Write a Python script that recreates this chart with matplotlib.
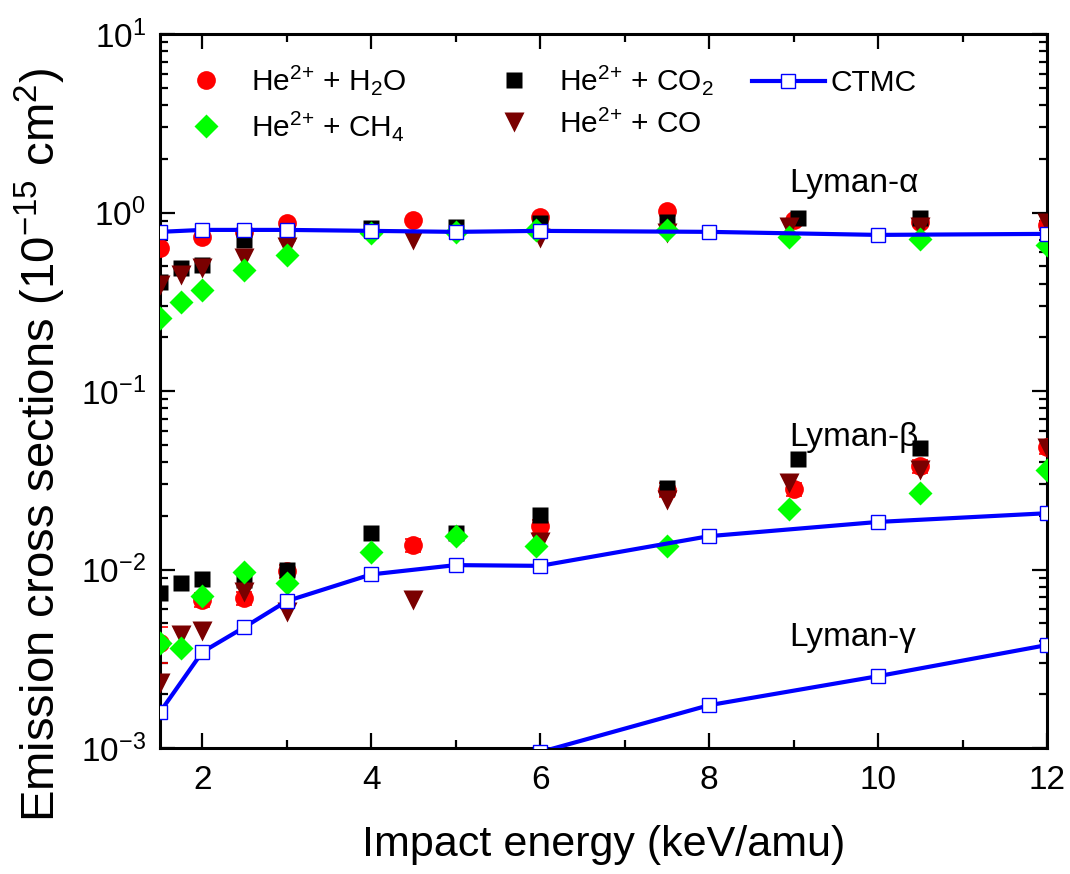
import matplotlib
matplotlib.use("Agg")
import matplotlib.pyplot as plt
from matplotlib.ticker import LogLocator, NullFormatter

plt.rcParams["font.family"] = ["Liberation Sans", "DejaVu Sans"]
plt.rcParams["mathtext.fontset"] = "custom"
plt.rcParams["mathtext.rm"] = "Liberation Sans"
plt.rcParams["mathtext.it"] = "Liberation Sans:italic"
plt.rcParams["mathtext.bf"] = "Liberation Sans:bold"
plt.rcParams["axes.unicode_minus"] = False

# impact energies (keV/amu) per target
energy_h2o = [1.5, 2, 2.5, 3, 4.5, 6, 7.5, 9, 10.5, 12]
energy_co2 = [1.5, 1.75, 2, 2.5, 3, 4, 5, 6, 7.5, 9.05, 10.5]
energy_co = [1.5, 1.75, 2, 2.5, 3, 4.5, 6, 7.5, 8.95, 10.5, 12]
energy_ch4 = [1.5, 1.75, 2, 2.5, 3, 4, 5, 5.95, 7.5, 8.95, 10.5, 12]

# Lyman-alpha (1e-15 cm^2)
h2o_alpha = [0.633, 0.729, 0.778, 0.873, 0.91, 0.94, 1.02, 0.91, 0.885, 0.85]
co2_alpha = [0.408, 0.489, 0.508, 0.70, 0.768, 0.819, 0.83, 0.873, 0.885, 0.93, 0.93]
co_alpha = [0.393, 0.447, 0.489, 0.556, 0.641, 0.701, 0.72, 0.768, 0.83, 0.83, 0.873]
ch4_alpha = [0.258, 0.315, 0.368, 0.476, 0.578, 0.768, 0.78, 0.80, 0.80, 0.729, 0.711, 0.658]

# Lyman-beta
h2o_beta = [0.00388, 0.00675, 0.00692, 0.0098, 0.0137, 0.0175, 0.028, 0.0282, 0.038, 0.0486]
h2o_beta_err = [0.0009, 0.0006, 0.0006, 0.0008, 0.0012, 0.0015, 0.0025, 0.0025, 0.0033, 0.004]
co2_beta = [0.00743, 0.0084, 0.00885, 0.00873, 0.00994, 0.016, 0.016, 0.0202, 0.0286, 0.0416, 0.048]
co_beta = [0.00231, 0.0043, 0.00452, 0.00748, 0.00578, 0.00675, 0.01426, 0.0245, 0.0305, 0.0361, 0.048]
ch4_beta = [0.00388, 0.00363, 0.00711, 0.0097, 0.0084, 0.01253, 0.0154, 0.01355, 0.01355, 0.0218, 0.0268, 0.0361]

# CTMC calculations
energy_ctmc = [1.5, 2, 2.5, 3, 4, 5, 6, 8, 10, 12]
ctmc_alpha = [0.78, 0.80, 0.80, 0.80, 0.79, 0.78, 0.79, 0.78, 0.75, 0.76]
ctmc_beta = [0.00159, 0.00345, 0.00476, 0.00666, 0.0094, 0.0106, 0.0105, 0.0154, 0.0185, 0.0207]
energy_ctmc_gamma = [6, 8, 10, 12]
ctmc_gamma = [0.00095, 0.00174, 0.00253, 0.00378]

series_labels = ["He$^{2{+}}$ + H$_{2}$O", "He$^{2{+}}$ + CH$_{4}$",
                 "He$^{2{+}}$ + CO$_{2}$", "He$^{2{+}}$ + CO"]

RED = "#ff0000"
BLACK = "#000000"
BROWN = "#7a0000"
GREEN = "#00ff00"
BLUE = "#0000ff"


def main():
    fig = plt.figure(figsize=(10.7, 8.74), dpi=100)
    ax = fig.add_axes([0.1495, 0.144, 0.829, 0.817])

    ax.errorbar(energy_h2o, h2o_beta, yerr=h2o_beta_err, fmt="none",
                ecolor=RED, elinewidth=1.2, capsize=6, capthick=1.2, zorder=2)

    h2o_style = dict(ls="none", marker="o", color=RED, ms=13.5, mec="none")
    co2_style = dict(ls="none", marker="s", color=BLACK, ms=11.5, mec="none")
    co_style = dict(ls="none", marker="v", color=BROWN, ms=14, mec="none")
    ch4_style = dict(ls="none", marker="D", color=GREEN, ms=12, mec="none")
    ctmc_style = dict(color=BLUE, lw=3, marker="s", ms=10, mfc="white",
                      mec=BLUE, mew=1.0)

    h_h2o, = ax.plot(energy_h2o, h2o_alpha, zorder=3, **h2o_style)
    ax.plot(energy_h2o, h2o_beta, zorder=3, **h2o_style)
    h_co2, = ax.plot(energy_co2, co2_alpha, zorder=4, **co2_style)
    ax.plot(energy_co2, co2_beta, zorder=4, **co2_style)
    h_co, = ax.plot(energy_co, co_alpha, zorder=5, **co_style)
    ax.plot(energy_co, co_beta, zorder=5, **co_style)
    h_ch4, = ax.plot(energy_ch4, ch4_alpha, zorder=6, **ch4_style)
    ax.plot(energy_ch4, ch4_beta, zorder=6, **ch4_style)

    h_ctmc, = ax.plot(energy_ctmc, ctmc_alpha, zorder=7, **ctmc_style)
    ax.plot(energy_ctmc, ctmc_beta, zorder=7, **ctmc_style)
    ax.plot(energy_ctmc_gamma, ctmc_gamma, zorder=7, **ctmc_style)

    ax.set_yscale("log")
    ax.set_xlim(1.5, 12)
    ax.set_ylim(1e-3, 10)
    ax.set_xticks([2, 4, 6, 8, 10, 12])
    ax.set_xticks([3, 5, 7, 9, 11], minor=True)
    ax.yaxis.set_major_locator(LogLocator(base=10, numticks=10))
    ax.yaxis.set_minor_locator(LogLocator(base=10, subs=range(2, 10), numticks=20))
    ax.yaxis.set_minor_formatter(NullFormatter())

    ax.tick_params(which="both", direction="in", top=True, right=True,
                   labelsize=24, width=1.6)
    ax.tick_params(axis="x", pad=12)
    ax.tick_params(axis="y", pad=10)
    ax.tick_params(which="major", length=11)
    ax.tick_params(which="minor", length=6)
    for spine in ax.spines.values():
        spine.set_linewidth(2.2)

    ax.set_xlabel("Impact energy (keV/amu)", fontsize=31)
    ax.set_ylabel("Emission cross sections (10$^{-15}$ cm$^{2}$)", fontsize=34)
    ax.xaxis.set_label_coords(0.5, -0.108)
    ax.yaxis.set_label_coords(-0.104, 0.425)

    ax.text(8.95, 1.46, "Lyman-α", fontsize=24, va="center", ha="left")
    ax.text(8.95, 0.0552, "Lyman-β", fontsize=24, va="center", ha="left")
    ax.text(8.95, 0.00419, "Lyman-γ", fontsize=24, va="center", ha="left")

    data_legend = ax.legend(
        [h_h2o, h_ch4, h_co2, h_co], series_labels,
        ncol=2, loc="upper left", bbox_to_anchor=(0.0135, 0.959),
        frameon=False, fontsize=21.5, handlelength=2.3, handletextpad=0.35,
        columnspacing=2.45, labelspacing=0.4, borderpad=0, borderaxespad=0,
        numpoints=1,
    )
    ax.add_artist(data_legend)
    ax.legend(
        [h_ctmc], ["CTMC"],
        loc="upper left", bbox_to_anchor=(0.667, 0.951),
        frameon=False, fontsize=21.5, handlelength=2.45, handletextpad=0.2,
        borderpad=0, borderaxespad=0, numpoints=1,
    )

    fig.savefig("out.png", dpi=100)
    plt.close(fig)


if __name__ == "__main__":
    main()
